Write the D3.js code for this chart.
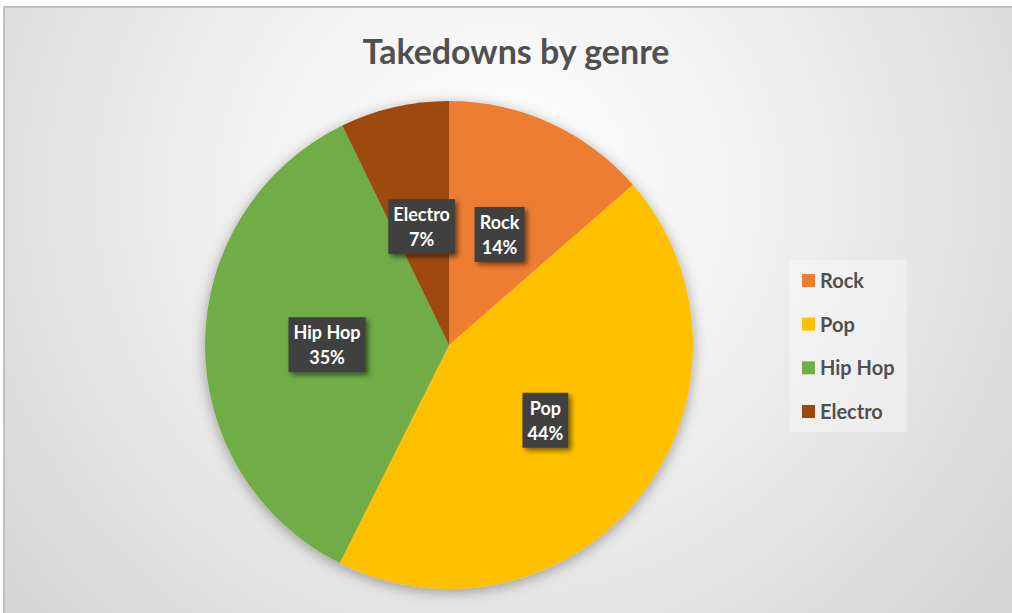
<!DOCTYPE html>
<html>
<head>
<meta charset="utf-8">
<script src="https://cdn.jsdelivr.net/npm/d3@7"></script>
<style>
  body { margin: 0; background: #fff; }
  svg { display: block; font-family: Lato, 'Open Sans', sans-serif; }
</style>
</head>
<body>
<div class="chart"></div>
<script>
var genres = ['Rock', 'Pop', 'Hip Hop', 'Electro'];
var shares = [13.6, 43.8, 35.4, 7.2];
var title = 'Takedowns by genre';

var width = 1012,
    height = 613,
    cx = 449,
    cy = 345,
    radius = 244;

var color = d3.scaleOrdinal()
    .domain(genres)
    .range(['#ed7d31', '#ffc000', '#70ad47', '#9e480e']);

var data = genres.map((g, i) => ({genre: g, share: shares[i]}));

var svg = d3.select('div.chart')
    .append('svg')
        .attr('width', width)
        .attr('height', height);

var defs = svg.append('defs');

var bg = defs.append('radialGradient')
    .attr('id', 'bg')
    .attr('gradientUnits', 'userSpaceOnUse')
    .attr('cx', 500).attr('cy', 190).attr('r', 640);
bg.append('stop').attr('offset', '0%').attr('stop-color', '#ffffff');
bg.append('stop').attr('offset', '40%').attr('stop-color', '#f1f1f1');
bg.append('stop').attr('offset', '100%').attr('stop-color', '#d5d5d5');

var pieShadow = defs.append('filter')
    .attr('id', 'pieShadow')
    .attr('x', '-20%').attr('y', '-20%').attr('width', '140%').attr('height', '140%');
pieShadow.append('feGaussianBlur').attr('in', 'SourceAlpha').attr('stdDeviation', 7);
pieShadow.append('feOffset').attr('dy', 3).attr('result', 'b');
pieShadow.append('feComponentTransfer').append('feFuncA').attr('type', 'linear').attr('slope', 0.35);
var m1 = pieShadow.append('feMerge');
m1.append('feMergeNode');
m1.append('feMergeNode').attr('in', 'SourceGraphic');

var boxShadow = defs.append('filter')
    .attr('id', 'boxShadow')
    .attr('x', '-30%').attr('y', '-30%').attr('width', '160%').attr('height', '160%');
boxShadow.append('feGaussianBlur').attr('in', 'SourceAlpha').attr('stdDeviation', 2.5);
boxShadow.append('feOffset').attr('dx', 3).attr('dy', 3).attr('result', 'b');
boxShadow.append('feComponentTransfer').append('feFuncA').attr('type', 'linear').attr('slope', 0.5);
var m2 = boxShadow.append('feMerge');
m2.append('feMergeNode');
m2.append('feMergeNode').attr('in', 'SourceGraphic');

// chart area, border shows on top and left only
svg.append('rect')
    .attr('x', 4).attr('y', 7)
    .attr('width', width + 10).attr('height', height + 10)
    .attr('fill', 'url(#bg)')
    .attr('stroke', '#bfbfbf')
    .attr('stroke-width', 2);

svg.append('text')
    .attr('x', 516)
    .attr('y', 64)
    .attr('text-anchor', 'middle')
    .attr('font-size', 34)
    .attr('font-weight', 'bold')
    .attr('fill', '#505050')
    .text(title);

var pie = d3.pie()
    .value((d) => d.share)
    .sort(null);

var arc = d3.arc()
    .innerRadius(0)
    .outerRadius(radius);

var g = svg.append('g')
    .attr('transform', 'translate(' + cx + ',' + cy + ')');

g.append('g')
    .attr('filter', 'url(#pieShadow)')
    .selectAll('path')
    .data(pie(data))
    .enter()
    .append('path')
        .attr('fill', (d) => color(d.data.genre))
        .attr('d', arc);

var fmt = d3.format('.0%');

var labels = g.selectAll('g.label')
    .data(pie(data))
    .enter()
    .append('g')
        .attr('class', 'label')
        .attr('transform', (d) => 'translate(' + arc.centroid(d) + ')');

labels.each(function(d) {
    var lab = d3.select(this);
    var box = lab.append('rect')
        .attr('fill', '#404040')
        .attr('filter', 'url(#boxShadow)');
    var txt = lab.append('text')
        .attr('text-anchor', 'middle')
        .attr('font-size', 18)
        .attr('font-weight', 'bold')
        .attr('fill', '#ffffff');
    txt.append('tspan').attr('x', 0).attr('y', -5).text(d.data.genre);
    txt.append('tspan').attr('x', 0).attr('y', 20).text(fmt(d.data.share / 100));
    var bb = txt.node().getBBox();
    var w = bb.width + 10;
    box.attr('x', -w / 2).attr('y', -27).attr('width', w).attr('height', 55);
});

// legend
var legend = svg.append('g')
    .attr('transform', 'translate(790,260)');

legend.append('rect')
    .attr('width', 117)
    .attr('height', 172)
    .attr('fill', '#ffffff')
    .attr('fill-opacity', 0.35);

var row = d3.scalePoint()
    .domain(genres)
    .range([21, 152]);

var item = legend.selectAll('g.item')
    .data(genres)
    .enter()
    .append('g')
        .attr('class', 'item')
        .attr('transform', (d) => 'translate(12,' + row(d) + ')');

item.append('rect')
    .attr('y', -7)
    .attr('width', 13)
    .attr('height', 13)
    .attr('fill', (d) => color(d));

item.append('text')
    .attr('x', 18)
    .attr('y', 7)
    .attr('font-size', 20)
    .attr('font-weight', 'bold')
    .attr('fill', '#505050')
    .text((d) => d);
</script>
</body>
</html>
